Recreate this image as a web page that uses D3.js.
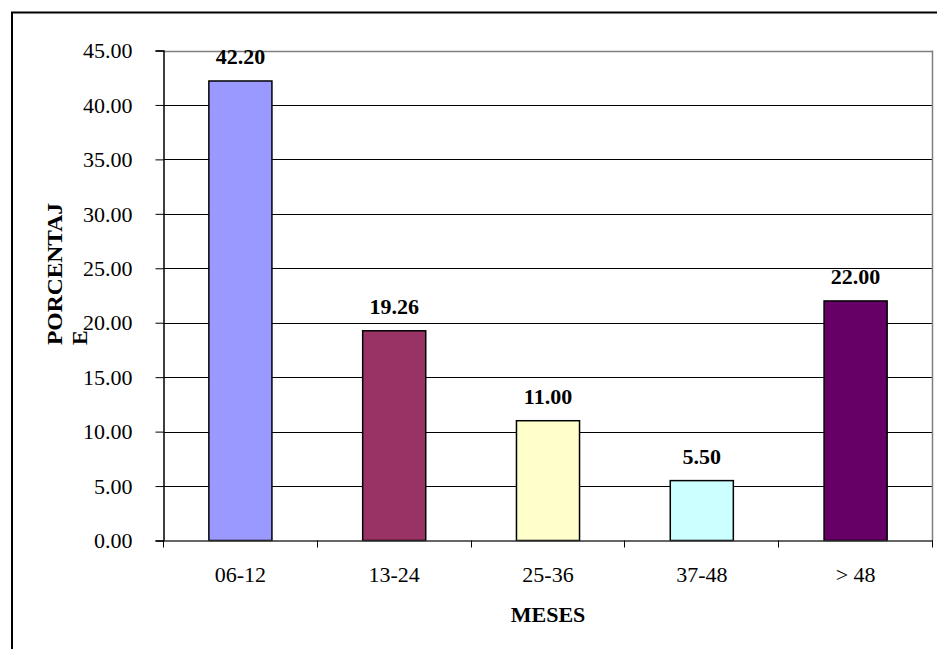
<!DOCTYPE html>
<html>
<head>
<meta charset="utf-8">
<script src="https://cdn.jsdelivr.net/npm/d3@7"></script>
<style>
	body { margin: 0; background: #fff; }
	svg { display: block; }
	svg text { font-family: 'Liberation Serif', 'Times New Roman', Times, serif; fill: #000; }
</style>
</head>
<body>
<div id="chart"></div>
<script>
var categories = ["06-12", "13-24", "25-36", "37-48", "> 48"];
var values = [42.20, 19.26, 11.00, 5.50, 22.00];
var colors = ["#9999ff", "#993366", "#ffffcc", "#ccffff", "#660066"];
var yTicks = [0, 5, 10, 15, 20, 25, 30, 35, 40, 45];

var width = 937,
	height = 649;

var plotleft = 163.5,
	plotright = 932.5,
	plottop = 50.5,
	plotbottom = 540.5;

var serif = "'Liberation Serif', 'Times New Roman', Times, serif";

var svg = d3.select("#chart").append("svg")
	.attr("width", width)
	.attr("height", height);

svg.append("rect")
	.attr("width", width)
	.attr("height", height)
	.attr("fill", "#fff");

// outer chart frame (runs off the right/bottom of the picture)
svg.append("rect")
	.attr("x", 12)
	.attr("y", 12.5)
	.attr("width", 940)
	.attr("height", 650)
	.attr("fill", "none")
	.attr("stroke", "#000")
	.attr("stroke-width", 2);

var x = d3.scaleBand()
	.domain(categories)
	.range([plotleft, plotright])
	.paddingInner(0.59)
	.paddingOuter(0.295);

var y = d3.scaleLinear()
	.domain([0, 45])
	.range([plotbottom, plottop]);

// gridlines
svg.append("g")
	.selectAll("line")
	.data(yTicks.filter(function(d) { return d > 0; }))
	.enter()
	.append("line")
	.attr("x1", plotleft)
	.attr("x2", plotright)
	.attr("y1", function(d) { return Math.round(y(d)) + 0.5; })
	.attr("y2", function(d) { return Math.round(y(d)) + 0.5; })
	.attr("stroke", function(d) { return d == 45 ? "#808080" : "#000"; })
	.attr("stroke-width", function(d) { return d == 45 ? 1.5 : 1; });

// right border of plot
svg.append("line")
	.attr("x1", plotright).attr("x2", plotright)
	.attr("y1", plottop).attr("y2", plotbottom)
	.attr("stroke", "#808080")
	.attr("stroke-width", 1.5);

// bars
svg.append("g")
	.selectAll("rect")
	.data(values)
	.enter()
	.append("rect")
	.attr("x", function(d, i) { return x(categories[i]); })
	.attr("y", function(d) { return y(d); })
	.attr("width", x.bandwidth())
	.attr("height", function(d) { return y(0) - y(d); })
	.attr("fill", function(d, i) { return colors[i]; })
	.attr("stroke", "#000")
	.attr("stroke-width", 1.5);

// value labels
svg.append("g")
	.selectAll("text")
	.data(values)
	.enter()
	.append("text")
	.attr("x", function(d, i) { return x(categories[i]) + x.bandwidth() / 2; })
	.attr("y", function(d) { return y(d) - 17; })
	.attr("text-anchor", "middle")
	.attr("font-family", serif)
	.attr("font-size", "22px")
	.attr("font-weight", "bold")
	.text(function(d) { return d.toFixed(2); });

// y axis
var yAxis = d3.axisLeft(y)
	.tickValues(yTicks)
	.tickFormat(d3.format(".2f"))
	.tickSize(8)
	.tickPadding(23);

var gy = svg.append("g")
	.attr("transform", "translate(" + plotleft + ",0)")
	.call(yAxis)
	.attr("font-family", serif);
gy.select(".domain").attr("stroke", "#000").attr("stroke-width", 1.5);
gy.selectAll(".tick line").attr("stroke", "#000");
gy.selectAll(".tick text")
	.attr("font-size", "22px")
	.attr("fill", "#000")
	.attr("dy", "0.33em");

// x axis
var xAxis = d3.axisBottom(x)
	.tickSize(0)
	.tickPadding(0);

var gx = svg.append("g")
	.attr("transform", "translate(0," + plotbottom + ")")
	.call(xAxis)
	.attr("font-family", serif);
gx.select(".domain").attr("stroke", "#333").attr("stroke-width", 1.5);
gx.selectAll(".tick text")
	.attr("font-size", "22px")
	.attr("fill", "#000")
	.attr("dy", null)
	.attr("y", 41.5);

// category separators under the axis
var step = x.step();
svg.append("g")
	.selectAll("line")
	.data(d3.range(categories.length + 1))
	.enter()
	.append("line")
	.attr("x1", function(d) { return Math.round(plotleft + d * step - 0.5) + 0.5; })
	.attr("x2", function(d) { return Math.round(plotleft + d * step - 0.5) + 0.5; })
	.attr("y1", plotbottom)
	.attr("y2", plotbottom + 7)
	.attr("stroke", "#000");

// axis titles
svg.append("text")
	.attr("x", (plotleft + plotright) / 2)
	.attr("y", 622)
	.attr("text-anchor", "middle")
	.attr("font-family", serif)
	.attr("font-size", "22px")
	.attr("font-weight", "bold")
	.text("MESES");

var ytitle = svg.append("g")
	.attr("transform", "translate(62,345) rotate(-90)")
	.attr("font-family", serif)
	.attr("font-size", "22px")
	.attr("font-weight", "bold");
ytitle.append("text")
	.attr("x", 0)
	.attr("y", 0)
	.attr("textLength", 142)
	.attr("lengthAdjust", "spacingAndGlyphs")
	.text("PORCENTAJ");
ytitle.append("text")
	.attr("x", 0)
	.attr("y", 25)
	.text("E");
</script>
</body>
</html>
